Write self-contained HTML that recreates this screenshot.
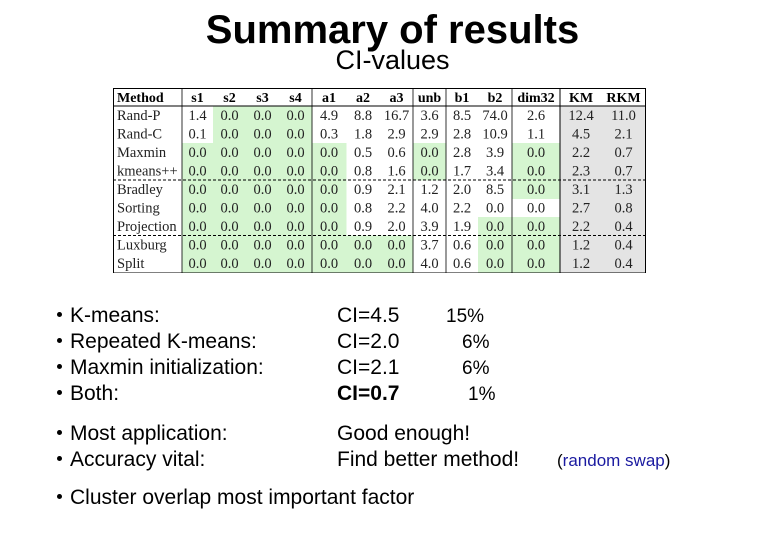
<!DOCTYPE html>
<html><head><meta charset="utf-8">
<style>
body{margin:0;width:780px;height:540px;background:#fff;position:relative;overflow:hidden;font-family:"Liberation Sans",sans-serif;}
.t{position:absolute;white-space:nowrap;color:#000;}
#title{left:0;width:785px;text-align:center;top:8px;font-size:40px;font-weight:bold;}
#sub{left:0;width:785px;text-align:center;top:45px;font-size:27px;}
#tbl{position:absolute;left:113px;top:88px;}
.b{font-size:21px;line-height:26px;}
.dot{position:absolute;width:5px;height:5px;border-radius:50%;background:#000;}
</style></head><body>
<div id="title" class="t">Summary of results</div>
<div id="sub" class="t">CI-values</div>
<svg id="tbl" width="534" height="185"></svg>
<div id="bullets"></div>
<script>
const headers=["Method","s1","s2","s3","s4","a1","a2","a3","unb","b1","b2","dim32","KM","RKM"];
const methods=["Rand-P","Rand-C","Maxmin","kmeans++","Bradley","Sorting","Projection","Luxburg","Split"];
const values=[
["1.4","0.0","0.0","0.0","4.9","8.8","16.7","3.6","8.5","74.0","2.6","12.4","11.0"],
["0.1","0.0","0.0","0.0","0.3","1.8","2.9","2.9","2.8","10.9","1.1","4.5","2.1"],
["0.0","0.0","0.0","0.0","0.0","0.5","0.6","0.0","2.8","3.9","0.0","2.2","0.7"],
["0.0","0.0","0.0","0.0","0.0","0.8","1.6","0.0","1.7","3.4","0.0","2.3","0.7"],
["0.0","0.0","0.0","0.0","0.0","0.9","2.1","1.2","2.0","8.5","0.0","3.1","1.3"],
["0.0","0.0","0.0","0.0","0.0","0.8","2.2","4.0","2.2","0.0","0.0","2.7","0.8"],
["0.0","0.0","0.0","0.0","0.0","0.9","2.0","3.9","1.9","0.0","0.0","2.2","0.4"],
["0.0","0.0","0.0","0.0","0.0","0.0","0.0","3.7","0.6","0.0","0.0","1.2","0.4"],
["0.0","0.0","0.0","0.0","0.0","0.0","0.0","4.0","0.6","0.0","0.0","1.2","0.4"]];
const green=[
[0,1,1,1,0,0,0,0,0,0,0],[0,1,1,1,0,0,0,0,0,0,0],
[1,1,1,1,1,0,0,1,0,0,1],[1,1,1,1,1,0,0,1,0,0,1],
[1,1,1,1,1,0,0,0,0,0,1],[1,1,1,1,1,0,0,0,0,0,0],
[1,1,1,1,1,0,0,0,0,1,1],[1,1,1,1,1,1,1,0,0,1,1],[1,1,1,1,1,1,1,0,0,1,1]];
const colX=[0,69,100,133,166,199,233,267,300,333,365,399,447,489,532];
const NS="http://www.w3.org/2000/svg";
const svg=document.getElementById('tbl');
const hH=18,rH=18.5;
function mk(tag,at){const e=document.createElementNS(NS,tag);for(const k in at)e.setAttribute(k,at[k]);svg.appendChild(e);return e;}
let g=mk('rect',{x:colX[12],y:hH,width:colX[14]-colX[12],height:rH*9,fill:'#e4e4e4'});


green.forEach((row,r)=>row.forEach((v,c)=>{if(v){
 const e=mk('rect',{x:colX[c+1],y:hH+r*rH,width:colX[c+2]-colX[c+1]+0.5,height:rH+0.5,fill:'#d5f5d0'});
 
 
}}));
headers.forEach((h,i)=>{
 const x=i==0?4:(colX[i]+colX[i+1])/2;
 const e=mk('text',{x:x,y:14,'font-family':'Liberation Serif,serif','font-size':14,'font-weight':'bold','text-anchor':i==0?'start':'middle'});
 e.textContent=h;
 
 
});
methods.forEach((m,r)=>{
 const y=hH+r*rH+14;
 let e=mk('text',{x:4,y:y,'font-family':'Liberation Serif,serif','font-size':14.5,fill:'#222'});
 e.textContent=m;
 
 
 values[r].forEach((v,c)=>{
  const t=mk('text',{x:(colX[c+1]+colX[c+2])/2,y:y,'font-family':'Liberation Serif,serif','font-size':14.5,'text-anchor':'middle',fill:'#222'});
  t.textContent=v;
  
  
 });
});
mk('rect',{x:0.5,y:0.5,width:532,height:hH+rH*9,fill:'none',stroke:'#000','stroke-width':1});
mk('line',{x1:0,x2:533,y1:hH,y2:hH,stroke:'#000'});
[4,7].forEach(r=>mk('line',{x1:0,x2:533,y1:hH+r*rH,y2:hH+r*rH,stroke:'#000','stroke-dasharray':'3,2'}));
[1,5,8,9,11,12].forEach(c=>mk('line',{x1:colX[c],x2:colX[c],y1:0,y2:hH+rH*9,stroke:'#000','stroke-width':0.8}));
mk('line',{x1:colX[12],x2:colX[12],y1:0,y2:hH+rH*9,stroke:'#000'});

const lines=[
 [316,"K-means:","CI=4.5","15%",0,446],
 [342,"Repeated K-means:","CI=2.0","6%",0,462],
 [368,"Maxmin initialization:","CI=2.1","6%",0,462],
 [394,"Both:","CI=0.7","1%",1,468],
 [434,"Most application:","Good enough!","",0,0],
 [460,"Accuracy vital:","Find better method!","",0,0],
 [498,"Cluster overlap most important factor","","",0,0]];
const B=document.getElementById('bullets');
lines.forEach(l=>{
 const [y,a,b,c,bold,px]=l;
 const d=document.createElement('div');d.className='dot';d.style.left='57px';d.style.top=(y-4)+'px';
 
 
 B.appendChild(d);
 const t=document.createElement('div');t.className='t b';t.style.left='70px';t.style.top=(y-13)+'px';t.textContent=a;
 
 
 B.appendChild(t);
 if(b){const u=document.createElement('div');u.className='t b';u.style.left='337px';u.style.top=(y-13)+'px';
  if(bold)u.style.fontWeight='bold';u.textContent=b;
  
  
  B.appendChild(u);}
 if(c){const p=document.createElement('div');p.className='t';p.style.fontSize='19px';p.style.left=px+'px';p.style.top=(y-10)+'px';p.textContent=c;
  
  
  B.appendChild(p);}
});
const rs=document.createElement('div');rs.className='t';rs.style.left='557px';rs.style.top='451px';rs.style.fontSize='17px';
rs.innerHTML='(<span style="color:#1a1aa0">random swap</span>)';


B.appendChild(rs);
</script>
</body></html>
